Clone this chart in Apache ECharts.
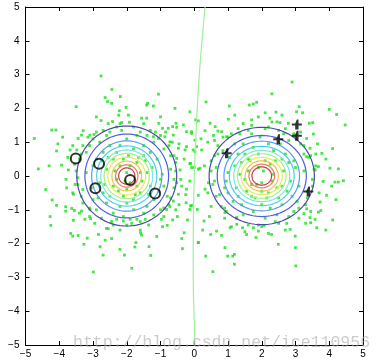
<!DOCTYPE html>
<html><head><meta charset="utf-8">
<script src="https://cdn.jsdelivr.net/npm/echarts@6/dist/echarts.min.js"></script>
<style>html,body{margin:0;padding:0;background:#fff}#c{width:384px;height:363px}</style>
</head><body><div id="c"></div>
<script>
// axis ticks
const xTicks = [-5,-4,-3,-2,-1,0,1,2,3,4,5];
const yTicks = [-5,-4,-3,-2,-1,0,1,2,3,4,5];

// scattered samples (green dots)
const dotsLeft = [
[-2.76,2.96],[-2.44,2.56],[-2.19,2.35],[-2.64,2.32],[-2.57,2.20],[-2.45,2.15],[-3.50,2.05],[-2.02,2.03],[-2.22,1.93],[-2.24,1.80],[-1.95,1.80],[-1.38,2.15],[-1.41,2.10],[-1.21,2.07],[-1.06,2.42],[-0.57,2.00],[-0.13,1.90],[-2.76,1.64],[-2.42,1.61],[-2.15,1.58],[-1.92,1.59],[-1.56,1.71],[-1.41,1.71],[-1.05,1.56],[-0.94,1.41],[-0.77,1.41],[-0.64,1.46],[-0.54,1.56],[-0.52,1.44],[-0.32,1.51],[-0.23,1.31],[-0.08,1.26],[0.04,1.66],[-4.22,1.36],[-4.10,1.36],[-4.74,1.11],[-3.29,1.34],[-3.34,1.21],[-3.44,1.11],[-3.09,1.21],[-2.97,1.23],[-4.04,0.95],[-3.68,0.77],[-3.48,0.77],[-4.08,0.74],[-3.93,0.32],[-4.62,0.21],[-3.73,0.18],[-0.23,0.87],[-0.03,0.77],[0.02,1.06],[-0.13,0.37],[-0.08,0.25],[0.12,0.20],[-0.47,0.82],[-0.27,0.77],[-0.52,0.52],[-0.42,0.18],[-0.62,1.21],[-0.72,1.01],[-0.87,1.16],[-1.06,1.11],[-1.21,1.16],
[-4.27,-1.20],[-4.25,-1.46],[-4.21,-0.71],[-4.08,-0.87],[-3.81,-0.91],[-3.81,-1.04],[-3.63,-0.96],[-3.55,-1.02],[-3.58,-1.31],[-3.66,-1.70],[-3.60,-1.78],[-3.44,-1.76],[-3.27,-2.02],[-3.17,-1.84],[-3.07,-1.26],[-2.99,-2.84],[-2.84,-1.73],[-2.79,-2.09],[-2.70,-2.34],[-2.64,-1.90],[-2.55,-1.56],[-2.45,-1.85],[-2.20,-2.17],[-2.07,-2.34],[-1.85,-2.73],[-1.76,-2.10],[-1.73,-1.97],[-1.59,-1.68],[-1.56,-1.75],[-1.34,-2.09],[-1.29,-2.35],[-1.11,-1.79],[-0.94,-1.50],[-0.80,-1.46],[-0.64,-1.30],[-0.50,-1.20],[-0.37,-1.85],[-0.35,-2.15],[-0.30,-1.68],[-0.24,-0.79],[-0.23,-0.39],[-0.13,-0.99],[-0.08,-0.87],[0.12,-1.97],[-0.13,-0.15],[-0.52,-0.20],[-0.37,-0.30],[-0.47,-0.54],[-0.62,-0.74],[-3.78,-0.35],[-3.58,-0.54],[-3.53,-0.25],[-3.34,-1.04],[-3.24,-1.28],[-3.09,-0.99],[-0.82,-0.99],[-0.72,-0.91],[-0.97,-1.28],[-2.30,-1.28],[-2.10,-1.33],[-1.90,-1.28],[-1.70,-1.28],[-1.45,-1.28],
[-2.0,0.1],[-1.9,-0.2],[-2.2,0.3],[-1.7,0.4],[-2.4,-0.3],[-1.6,-0.5],[-2.3,0.7],[-1.8,0.8],[-2.6,0.2],[-1.4,0.1],[-2.1,-0.6],[-2.7,-0.5],[-1.3,-0.3],[-2.5,0.9],[-1.5,0.9],[-2.9,0.5],[-1.1,0.5],[-2.8,-0.2],[-1.2,-0.7],[-2.2,-0.9],[-1.8,-1.0],[-3.0,-0.7],[-1.0,-0.1],[-3.2,0.1],[-0.9,0.8],[-2.0,1.1],[-2.6,1.2],[-1.4,1.2],[-3.1,0.9],[-0.8,-0.6],[-2.4,-1.1],[-1.5,-1.1],[-3.3,-0.4],[-0.7,0.2],[-2.9,-1.0],[-1.0,-1.0],[-2.1,0.5],[-1.9,0.3],[-2.3,-0.1],[-1.7,-0.3],[-2.5,-0.6],[-1.5,0.6],[-2.0,-0.4],[-1.6,0.1],[-2.4,0.5],[-2.7,0.7],[-1.3,0.7],[-2.8,1.0],[-1.2,1.0],[-3.0,0.3],[-0.9,-0.3],[-2.6,-0.8],[-1.4,-0.9],[-2.1,-1.2],[-1.8,-0.7],[-2.2,0.9],[-1.7,1.2],[-3.4,0.5],[-0.6,-0.1],[-3.3,-0.8],[-0.7,0.6],[-2.5,1.3],[-1.6,1.3],[-3.1,-1.2],[-0.9,-1.2],[-2.0,-0.8],[-1.95,0.6],[-2.35,0.15],[-1.55,-0.15],[-2.65,-0.25],[-1.25,0.25],[-2.75,0.45],[-1.05,-0.45],[-2.15,1.35],[-1.85,-1.4],[-2.45,-1.35],[-3.45,-0.05],[-0.55,0.4],[-3.2,0.7],[-0.75,-0.85],[-2.9,1.3],[-1.15,1.3],[-3.4,-1.1],[-0.65,1.0],[-2.05,-0.15],[-1.65,0.55],[-2.55,0.55],[-2.25,-0.45],[-1.45,0.45],[-2.85,-0.65],[-1.75,-0.55],[-1.35,-0.55],[-3.05,-0.35],[-0.95,0.05],[-2.2,1.55],[-1.6,-1.6],[-2.6,-1.55],[-3.55,0.35],[-3.6,0.9],[-0.45,-0.85],
[-3.3,0.9],[-3.0,1.1],[-2.7,1.35],[-2.3,1.45],[-1.8,1.45],[-1.3,1.35],[-1.0,1.2],[-0.75,0.9],[-0.6,0.6],[-0.55,0.15],[-0.6,-0.35],[-0.7,-0.65],[-0.9,-0.95],[-1.2,-1.15],[-1.6,-1.35],[-2.0,-1.45],[-2.4,-1.45],[-2.75,-1.25],[-3.1,-0.95],[-3.35,-0.6],[-3.45,-0.25],[-3.5,0.15],[-3.35,0.65],[-3.15,1.15],[-2.55,1.55],[-1.5,1.55],[-0.85,1.3],[-0.45,0.95],[-0.4,-0.1],[-0.55,-1.0],[-1.35,-1.45],[-2.2,-1.6],[-2.95,-1.4],[-3.6,-0.5],[-3.75,0.55],[-3.8,-0.1],[-0.3,0.5],[-0.25,-0.55],[-1.0,1.75],[-2.9,1.75],[-3.9,1.15],[-4.3,0.3],[-4.4,-0.4],[-0.2,-1.3]
];
const dotsRight = [
[2.90,2.78],[2.30,2.43],[0.35,2.19],[1.04,2.07],[1.63,2.10],[1.75,2.13],[1.85,2.18],[3.11,2.05],[3.03,1.90],[3.21,1.87],[4.00,1.97],[4.22,1.82],[4.47,1.51],[2.10,1.87],[2.42,1.89],[1.90,1.75],[2.24,1.71],[1.70,1.66],[1.01,1.68],[0.47,1.56],[0.62,1.46],[0.12,1.63],[-0.08,1.31],[0.32,1.34],[0.57,1.20],[0.70,1.33],[0.81,1.31],[0.96,1.16],[2.54,1.58],[2.79,1.56],[3.41,1.56],[3.51,1.58],[3.53,1.24],[3.33,1.11],[0.07,0.87],[0.22,0.77],[0.02,0.72],[-0.11,0.37],[0.00,0.25],[0.17,0.23],[4.10,0.81],[3.78,0.67],[3.68,0.28],[4.02,0.23],[4.27,0.21],[3.43,0.82],[3.33,0.57],[3.58,0.18],
[0.12,-0.57],[0.09,-0.99],[-0.11,-0.89],[0.29,-1.33],[0.45,-1.20],[0.66,-1.63],[0.49,-1.73],[0.81,-1.76],[0.12,-1.97],[0.34,-2.37],[0.55,-2.83],[0.91,-2.12],[0.99,-2.37],[1.14,-2.37],[1.19,-2.32],[1.19,-2.61],[1.06,-1.53],[1.26,-1.43],[1.43,-1.53],[1.55,-1.73],[1.75,-1.53],[1.83,-1.82],[1.90,-1.63],[2.07,-1.46],[2.29,-1.73],[2.49,-2.02],[2.74,-1.40],[2.84,-1.58],[2.99,-1.78],[3.00,-2.12],[3.01,-2.66],[3.33,-0.97],[3.25,-1.11],[3.43,-1.23],[3.45,-1.38],[3.58,-1.28],[3.63,-1.53],[3.68,-1.07],[3.73,-0.77],[3.75,-1.02],[3.82,-0.16],[3.92,-0.57],[4.07,-0.30],[4.17,-0.18],[4.27,-0.18],[4.42,-0.14],[4.10,-1.30],[0.42,-0.20],[0.32,-0.39],[0.91,-1.08],[1.26,-1.23],
[2.05,0.15],[1.85,-0.25],[2.25,0.35],[1.65,0.45],[2.45,-0.35],[1.55,-0.45],[2.35,0.75],[1.75,0.85],[2.65,0.15],[1.35,0.05],[2.15,-0.65],[2.75,-0.45],[1.25,-0.35],[2.55,0.95],[1.45,0.95],[2.95,0.45],[1.05,0.55],[2.85,-0.15],[1.15,-0.75],[2.25,-0.95],[1.75,-1.05],[3.05,-0.75],[0.95,-0.15],[3.25,0.15],[0.85,0.75],[1.95,1.15],[2.65,1.25],[1.35,1.25],[3.15,0.95],[0.75,-0.55],[2.45,-1.15],[1.45,-1.15],[3.35,-0.45],[0.65,0.25],[2.95,-1.05],[0.95,-1.05],[2.1,0.45],[1.9,0.25],[2.3,-0.15],[1.7,-0.25],[2.5,-0.65],[1.5,0.65],[2.0,-0.45],[1.6,0.15],[2.4,0.45],[2.7,0.65],[1.3,0.65],[2.8,1.05],[1.2,0.95],[3.0,0.25],[0.9,-0.35],[2.6,-0.85],[1.4,-0.85],[2.1,-1.25],[1.8,-0.65],[2.2,0.95],[1.7,1.25],[3.4,0.55],[0.6,-0.15],[3.3,-0.85],[0.7,0.65],[2.5,1.35],[1.6,1.35],[3.1,-1.25],[0.9,-1.25],[2.0,-0.85],[1.9,0.65],[2.35,0.05],[1.5,-0.1],[2.6,-0.3],[1.2,0.3],[2.8,0.4],[1.0,-0.5],[2.1,1.4],[1.9,-1.45],[2.5,-1.4],[3.5,-0.1],[0.5,0.45],[3.25,0.65],[0.8,-0.9],[2.95,1.25],[1.1,1.25],[3.45,-1.05],[0.6,1.05],[2.0,-0.2],[1.6,0.5],[2.6,0.5],[2.2,-0.5],[1.4,0.4],[2.9,-0.6],[1.7,-0.6],[1.3,-0.6],[3.1,-0.3],[1.0,0.1],[2.3,1.6],[1.5,-1.65],[2.7,-1.6],[3.6,0.3],[3.65,0.95],[0.5,-0.9],
[0.7,0.9],[1.0,1.15],[1.3,1.4],[1.7,1.5],[2.2,1.45],[2.7,1.4],[3.0,1.2],[3.25,0.9],[3.45,0.6],[3.55,0.2],[3.5,-0.3],[3.35,-0.65],[3.1,-0.95],[2.8,-1.2],[2.4,-1.35],[2.0,-1.5],[1.6,-1.45],[1.25,-1.25],[0.9,-0.95],[0.65,-0.6],[0.55,-0.25],[0.5,0.15],[0.6,0.6],[0.85,1.15],[1.45,1.55],[2.45,1.6],[3.15,1.3],[3.6,0.65],[3.7,-0.5],[3.3,-1.4],[2.2,-1.7],[1.1,-1.5],[0.4,-0.5],[0.3,0.3],[0.4,1.0],[1.2,1.8],[2.6,1.8],[3.9,0.5],[4.2,-0.7],[3.9,-1.6],[0.2,1.1],[0.25,-1.6]
];

// labelled points
const circlePts = [[-3.51,0.52],[-2.82,0.36],[-2.93,-0.36],[-1.90,-0.12],[-1.16,-0.52]];
const plusPts = [[3.04,1.52],[3.04,1.19],[2.49,1.09],[0.96,0.67],[3.38,-0.46]];

// decision boundary
const boundary = [[0.32,5],[0.23,4],[0.15,3],[0.09,2],[0.04,1],[0.0,0],[-0.02,-1],[-0.03,-2],[-0.03,-3],[-0.01,-4],[0.02,-5]];

// contour ellipses (center + semi-axes per level)
const leftCenter = [-2, 0];
const leftR = [1.48,1.24,1.04,0.89,0.77,0.67,0.56,0.44,0.33,0.24];
const rightCenter = [2, 0];
const rightRx = [1.56,1.32,1.12,0.96,0.83,0.72,0.61,0.49,0.38,0.29];
const rightRy = [1.44,1.20,1.03,0.88,0.76,0.66,0.55,0.45,0.35,0.27];
const levelColors = ['#4b4bab','#4f5fe0','#5a9af2','#4ccbf2','#7ae8dc','#a8f08a','#e4ea58','#f5c04a','#f07a52','#c04040'];

const contourData = [];
leftR.forEach((r,i)=>contourData.push([leftCenter[0],leftCenter[1],r,r,i]));
rightRx.forEach((r,i)=>contourData.push([rightCenter[0],rightCenter[1],r,rightRy[i],i]));

const chart = echarts.init(document.getElementById('c'), null, {renderer:'canvas'});
const fmt = v => String(v).replace('-', '\u2212');
const lbl = {fontSize:10, color:'#000', fontFamily:'Liberation Sans, Arial, sans-serif', formatter: fmt};
const axisCommon = {type:'value', min:-5, max:5, interval:1, splitLine:{show:false},
  axisLine:{show:true, onZero:false, lineStyle:{color:'#000', width:1}},
  axisTick:{show:true, inside:true, length:4, lineStyle:{color:'#000'}}};

chart.setOption({
  animation:false,
  grid:{left:25.5, right:21, top:7, bottom:18, containLabel:false},
  xAxis:[
    Object.assign({}, axisCommon, {position:'bottom', axisLabel:Object.assign({margin:4}, lbl)}),
    Object.assign({}, axisCommon, {position:'top', axisLabel:{show:false}})
  ],
  yAxis:[
    Object.assign({}, axisCommon, {position:'left', axisLabel:Object.assign({margin:6}, lbl)}),
    Object.assign({}, axisCommon, {position:'right', axisLabel:{show:false}})
  ],
  series:[
    {type:'scatter', data:dotsLeft.concat(dotsRight), symbol:'rect', symbolSize:2.8,
     itemStyle:{color:'#18e018'}, z:2, silent:true},
    {type:'custom', data:contourData, z:3, silent:true,
     renderItem:function(params, api){
       const cx=api.value(0), cy=api.value(1), rx=api.value(2), ry=api.value(3), idx=api.value(4);
       const pts=[];
       for(let k=0;k<=96;k++){
         const t=k/96*Math.PI*2;
         pts.push(api.coord([cx+rx*Math.cos(t), cy+ry*Math.sin(t)]));
       }
       return {type:'polyline', shape:{points:pts}, style:{fill:null, stroke:levelColors[idx], lineWidth:1.2}};
     }},
    {type:'line', data:boundary, smooth:true, symbol:'none', z:4,
     lineStyle:{color:'#9bf09b', width:1.2}},
    {type:'scatter', data:circlePts, symbol:'circle', symbolSize:10, z:5,
     itemStyle:{color:'rgba(0,0,0,0)', borderColor:'#000', borderWidth:2}},
    {type:'scatter', data:plusPts, symbol:'path://M4,0h2v4h4v2h-4v4h-4v-4h-4v-2h4z', symbolSize:10, z:5,
     itemStyle:{color:'#000'}}
  ],
  graphic:[
    {type:'text', left:73, top:334, z:100, silent:true,
     style:{text:'http://blog.csdn.net/ice110956', font:'16.5px "Liberation Mono", "DejaVu Sans Mono", monospace', fill:'rgba(170,170,170,0.6)'}}
  ]
});
</script>
</body></html>
